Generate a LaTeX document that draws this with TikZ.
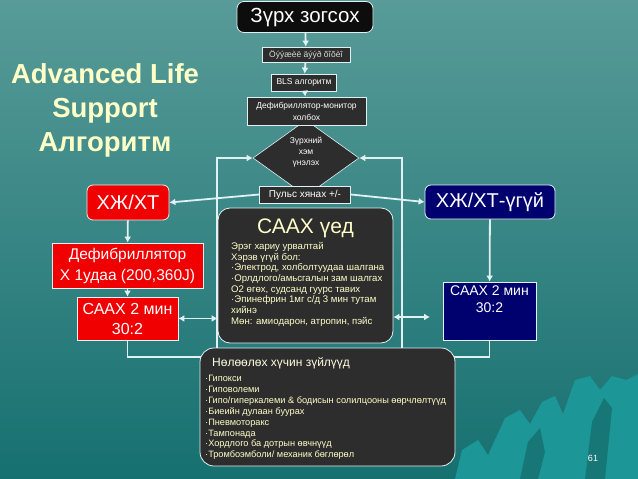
\documentclass[tikz,border=0pt]{standalone}
\usepackage{fontspec}
\setmainfont{Liberation Sans}
\usetikzlibrary{positioning,shapes.geometric,arrows.meta}
\definecolor{slidetop}{RGB}{88,155,152}
\definecolor{slidemid}{RGB}{40,132,130}
\definecolor{slidebot}{RGB}{22,112,112}
\definecolor{hill}{RGB}{28,150,150}
\definecolor{alsred}{RGB}{240,0,0}
\definecolor{alsnavy}{RGB}{0,0,110}
\definecolor{boxgray}{RGB}{45,45,45}
\definecolor{cream}{RGB}{255,255,200}
\definecolor{wire}{RGB}{225,240,242}
\begin{document}
\begin{tikzpicture}[x=1pt, y=-1pt,
  conn/.style={draw=wire, line width=1.8pt, -{Latex[length=6pt,width=7pt]}},
  grayblock/.style={fill=boxgray, draw=wire, line width=0.8pt, text=white, inner sep=1pt},
  redblock/.style={fill=alsred, draw=wire, line width=0.8pt, text=white, align=center, inner sep=1pt},
  navyblock/.style={fill=alsnavy, draw=wire, line width=0.8pt, text=white, align=center, inner sep=1pt}]
\useasboundingbox (0,0) rectangle (638,479);
\shade[top color=slidetop, middle color=slidemid, bottom color=slidebot] (0,0) rectangle (638,479);
% hills in the corner
\fill[hill] (455,479) -- (462,450) -- (478,440) -- (488,455) -- (505,418) -- (520,410) -- (530,424)
  -- (542,402) -- (555,396) -- (563,414) -- (575,380) -- (590,376) -- (600,390) -- (612,376)
  -- (626,380) -- (638,374) -- (638,479) -- cycle;
\fill[slidebot!85!hill] (520,479) -- (528,442) -- (540,428) -- (545,452) -- (538,479) -- cycle;
\fill[slidebot!85!hill] (585,479) -- (592,422) -- (604,398) -- (612,408) -- (605,479) -- cycle;

\node (alstitle) [align=center, text=cream, font=\bfseries\fontsize{27.5}{34}\selectfont] at (105,110) {Advanced Life\\Support\\Алгоритм};

% top chain
\node (rhythm) [diamond, fill=boxgray, draw=wire, line width=0.6pt, minimum width=106pt, minimum height=76pt,
  inner sep=0pt] at (306,158) {};
\node (rhythmtxt) [align=center, text=white, font=\fontsize{8.5}{11}\selectfont] at (306,152) {Зүрхний\\хэм\\үнэлэх};
\node (arrest) [grayblock, fill=black!95, rounded corners=7pt, minimum width=136pt, minimum height=31pt,
  font=\fontsize{20.5}{22}\selectfont] at (305,17) {Зүрх зогсох};
\node (callhelp) [grayblock, minimum width=88pt, minimum height=15pt, text=white!85!black,
  font=\fontsize{8.5}{9}\selectfont] at (306,54.5) {Öýýæèë äýýð õîõèî};
\node (bls) [grayblock, minimum width=65pt, minimum height=17pt, font=\fontsize{8.5}{9}\selectfont] at (304,82.5) {BLS алгоритм};
\node (monitor) [grayblock, align=center, minimum width=119pt, minimum height=28pt,
  font=\fontsize{8.5}{12}\selectfont] at (306.5,111) {Дефибриллятор-монитор\\холбох};
\node (pulse) [grayblock, minimum width=91pt, minimum height=17pt, font=\fontsize{10}{11}\selectfont] at (305,194.5) {Пульс хянах +/-};

% red column
\node (shock) [redblock, rounded corners=6pt, minimum width=82pt, minimum height=35pt,
  font=\fontsize{20}{22}\selectfont] at (128,202.5) {ХЖ/ХТ};
\node (defib) [redblock, minimum width=151pt, minimum height=45pt, font=\fontsize{15.5}{21}\selectfont] at (127.5,265.5) {Дефибриллятор\\Х 1удаа (200,360J)};
\node (cprleft) [redblock, minimum width=101pt, minimum height=43pt, font=\fontsize{16}{20}\selectfont] at (127.5,318.5) {СААХ 2 мин\\30:2};

% navy column
\node (noshock) [navyblock, rounded corners=6pt, minimum width=130pt, minimum height=34pt,
  font=\fontsize{20}{22}\selectfont] at (490,202) {ХЖ/ХТ-үгүй};
\node (cprright) [navyblock, minimum width=93pt, minimum height=58pt] at (489.5,311) {};
\node (cprrighttxt) [below=1pt of cprright.north, text=white, align=center, font=\fontsize{14}{17}\selectfont] {СААХ 2 мин\\30:2};

% loops back to the rhythm check
\coordinate (leftbot) at (217,357);
\coordinate (rightbot) at (402,357);
\coordinate (rightarr) at (430,317);
\draw[conn] (cprleft.south) |- (leftbot) |- (rhythm.west);
\draw[conn] (cprright.south) |- (rightbot) |- (rhythm.east);

% centre box
\node (cpr) [grayblock, rounded corners=12pt, minimum width=175pt, minimum height=135pt] at (305.5,275.5) {};
\node (cprtitle) [below=8pt of cpr.north, text=cream, font=\fontsize{21}{23}\selectfont] {СААХ үед};
\node (cprtxt) [anchor=north west, align=left, text=cream, inner sep=0pt, font=\fontsize{9.6}{10.7}\selectfont] at (231,242)
  {Эрэг хариу урвалтай\\Хэрэв үгүй бол:\\·Электрод, холболтуудаа шалгана\\·Орлдлого/амьсгалын зам шалгах\\О2 өгөх, судсанд гуурс тавих\\·Эпинефрин 1мг с/д 3 мин тутам\\хийнэ\\Мөн: амиодарон, атропин, пэйс};

% bottom box
\node (causes) [grayblock, rounded corners=14pt, minimum width=255pt, minimum height=118pt] at (327.5,407) {};
\node (causestitle) [anchor=north west, inner sep=0pt, text=cream!50!white, font=\fontsize{12}{13}\selectfont] at (212,357) {Нөлөөлөх хүчин зүйлүүд};
\node (causestxt) [anchor=north west, align=left, inner sep=0pt, text=cream, font=\fontsize{9.2}{10.9}\selectfont] at (205,375)
  {·Гипокси\\·Гиповолеми\\·Гипо/гиперкалеми \& бодисын солилцооны өөрчлөлтүүд\\·Биеийн дулаан буурах\\·Пневмоторакс\\·Тампонада\\·Хордлого ба дотрын өвчнүүд\\·Тромбоэмболи/ механик бөглөрөл};

% connectors
\draw[conn] (arrest) -- (callhelp);
\draw[conn] (callhelp) -- (bls);
\draw[conn] (bls) -- (monitor);
\draw[conn] (pulse.west) -- (shock.east);
\draw[conn] (pulse.east) -- (noshock.west);
\draw[conn] (shock) -- (defib);
\draw[conn] (defib) -- (cprleft);
\draw[conn] (noshock) -- (cprright);
\draw[conn, {Latex[length=6pt,width=7pt]}-{Latex[length=6pt,width=7pt]}] (cprleft.east) -- (cprleft.east -| cpr.west);
\draw[conn, {Latex[length=6pt,width=7pt]}-{Latex[length=6pt,width=7pt]}] (cpr.east |- rightarr) -- (rightarr);

\node (pagenum) [text=white, font=\fontsize{9}{10}\selectfont] at (593,458) {61};
\end{tikzpicture}
\end{document}
